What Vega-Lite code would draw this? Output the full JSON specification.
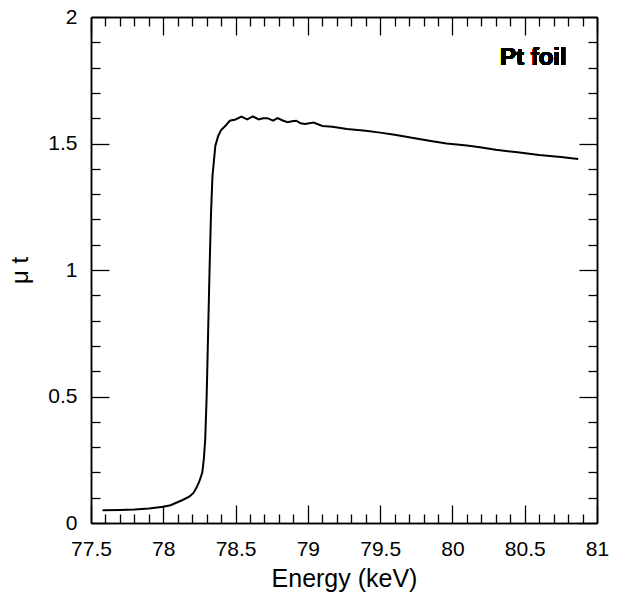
{
  "$schema": "https://vega.github.io/schema/vega-lite/v6.json",
  "width": 506,
  "height": 506,
  "autosize": "none",
  "padding": {"left": 91, "top": 17, "right": 21, "bottom": 72},
  "background": "white",
  "config": {
    "view": {"stroke": null},
    "font": "Liberation Sans",
    "axis": {
      "grid": false,
      "domainColor": "black",
      "domainWidth": 1.5,
      "tickColor": "black",
      "tickWidth": 1.3,
      "labelColor": "black",
      "titleColor": "black",
      "labelFont": "Liberation Sans",
      "titleFont": "Liberation Sans",
      "labelFontSize": 21,
      "titleFontSize": 25,
      "titleFontWeight": "normal",
      "labelFlush": false,
      "labelOverlap": false
    }
  },
  "data": {
    "values": [
      {"E": 77.58, "mu": 0.050}, {"E": 77.7, "mu": 0.051}, {"E": 77.8, "mu": 0.053},
      {"E": 77.9, "mu": 0.057}, {"E": 78.0, "mu": 0.064}, {"E": 78.05, "mu": 0.070},
      {"E": 78.09, "mu": 0.080}, {"E": 78.13, "mu": 0.090}, {"E": 78.18, "mu": 0.104},
      {"E": 78.21, "mu": 0.120}, {"E": 78.23, "mu": 0.140}, {"E": 78.25, "mu": 0.165},
      {"E": 78.27, "mu": 0.200}, {"E": 78.28, "mu": 0.250}, {"E": 78.29, "mu": 0.330},
      {"E": 78.30, "mu": 0.50}, {"E": 78.31, "mu": 0.75}, {"E": 78.32, "mu": 1.00},
      {"E": 78.33, "mu": 1.22}, {"E": 78.34, "mu": 1.37}, {"E": 78.36, "mu": 1.49},
      {"E": 78.38, "mu": 1.53}, {"E": 78.40, "mu": 1.553}, {"E": 78.43, "mu": 1.57},
      {"E": 78.46, "mu": 1.59}, {"E": 78.50, "mu": 1.595}, {"E": 78.54, "mu": 1.606},
      {"E": 78.58, "mu": 1.595}, {"E": 78.62, "mu": 1.607}, {"E": 78.66, "mu": 1.595},
      {"E": 78.69, "mu": 1.600}, {"E": 78.72, "mu": 1.600}, {"E": 78.76, "mu": 1.590},
      {"E": 78.79, "mu": 1.600}, {"E": 78.83, "mu": 1.590}, {"E": 78.86, "mu": 1.584},
      {"E": 78.89, "mu": 1.588}, {"E": 78.92, "mu": 1.590}, {"E": 78.95, "mu": 1.580},
      {"E": 78.98, "mu": 1.577}, {"E": 79.04, "mu": 1.583}, {"E": 79.1, "mu": 1.569},
      {"E": 79.17, "mu": 1.566}, {"E": 79.27, "mu": 1.557}, {"E": 79.4, "mu": 1.550},
      {"E": 79.5, "mu": 1.543}, {"E": 79.6, "mu": 1.535}, {"E": 79.73, "mu": 1.522},
      {"E": 79.85, "mu": 1.510}, {"E": 79.96, "mu": 1.500}, {"E": 80.1, "mu": 1.492},
      {"E": 80.19, "mu": 1.485}, {"E": 80.3, "mu": 1.475}, {"E": 80.45, "mu": 1.465},
      {"E": 80.6, "mu": 1.455}, {"E": 80.75, "mu": 1.447}, {"E": 80.87, "mu": 1.439}
    ]
  },
  "layer": [
    {
      "mark": {"type": "line", "color": "black", "strokeWidth": 2},
      "encoding": {
        "x": {
          "field": "E", "type": "quantitative",
          "scale": {"domain": [77.5, 81], "nice": false, "zero": false},
          "axis": {
            "orient": "bottom",
            "values": [77.5, 78, 78.5, 79, 79.5, 80, 80.5, 81],
            "format": "~g",
            "tickSize": -18,
            "labelPadding": 33,
            "title": "Energy (keV)",
            "titlePadding": 7
          }
        },
        "y": {
          "field": "mu", "type": "quantitative",
          "scale": {"domain": [0, 2], "nice": false, "zero": false},
          "axis": {
            "orient": "left",
            "values": [0, 0.5, 1, 1.5, 2],
            "format": "~g",
            "tickSize": -18,
            "labelPadding": 32,
            "title": "μ t",
            "titleFontSize": 24,
            "titlePadding": 15
          }
        }
      }
    },
    {
      "mark": {"type": "line", "opacity": 0},
      "encoding": {
        "x": {
          "field": "E", "type": "quantitative",
          "scale": {"domain": [77.5, 81], "nice": false, "zero": false},
          "axis": {
            "orient": "bottom",
            "values": [77.6, 77.7, 77.8, 77.9, 78.1, 78.2, 78.3, 78.4, 78.6, 78.7, 78.8, 78.9, 79.1, 79.2, 79.3, 79.4, 79.6, 79.7, 79.8, 79.9, 80.1, 80.2, 80.3, 80.4, 80.6, 80.7, 80.8, 80.9],
            "tickSize": -9,
            "labels": false,
            "title": null
          }
        },
        "y": {
          "field": "mu", "type": "quantitative",
          "scale": {"domain": [0, 2], "nice": false, "zero": false},
          "axis": {
            "orient": "left",
            "values": [0.1, 0.2, 0.3, 0.4, 0.6, 0.7, 0.8, 0.9, 1.1, 1.2, 1.3, 1.4, 1.6, 1.7, 1.8, 1.9],
            "tickSize": -9,
            "labels": false,
            "title": null
          }
        }
      }
    },
    {
      "mark": {"type": "line", "opacity": 0},
      "encoding": {
        "x": {
          "field": "E", "type": "quantitative",
          "scale": {"domain": [77.5, 81], "nice": false, "zero": false},
          "axis": {
            "orient": "top",
            "values": [77.5, 78, 78.5, 79, 79.5, 80, 80.5, 81],
            "tickSize": -18,
            "labels": false,
            "title": null
          }
        },
        "y": {
          "field": "mu", "type": "quantitative",
          "scale": {"domain": [0, 2], "nice": false, "zero": false},
          "axis": {
            "orient": "right",
            "values": [0, 0.5, 1, 1.5, 2],
            "tickSize": -18,
            "labels": false,
            "title": null
          }
        }
      }
    },
    {
      "mark": {"type": "line", "opacity": 0},
      "encoding": {
        "x": {
          "field": "E", "type": "quantitative",
          "scale": {"domain": [77.5, 81], "nice": false, "zero": false},
          "axis": {
            "orient": "top",
            "values": [77.6, 77.7, 77.8, 77.9, 78.1, 78.2, 78.3, 78.4, 78.6, 78.7, 78.8, 78.9, 79.1, 79.2, 79.3, 79.4, 79.6, 79.7, 79.8, 79.9, 80.1, 80.2, 80.3, 80.4, 80.6, 80.7, 80.8, 80.9],
            "tickSize": -9,
            "labels": false,
            "title": null
          }
        },
        "y": {
          "field": "mu", "type": "quantitative",
          "scale": {"domain": [0, 2], "nice": false, "zero": false},
          "axis": {
            "orient": "right",
            "values": [0.1, 0.2, 0.3, 0.4, 0.6, 0.7, 0.8, 0.9, 1.1, 1.2, 1.3, 1.4, 1.6, 1.7, 1.8, 1.9],
            "tickSize": -9,
            "labels": false,
            "title": null
          }
        }
      }
    },
    {
      "mark": {"type": "text", "text": "Pt foil", "align": "right", "baseline": "alphabetic", "fontSize": 24, "fontWeight": "bold", "font": "Liberation Sans", "color": "black"},
      "encoding": {
        "x": {"datum": 80.79, "type": "quantitative", "scale": {"domain": [77.5, 81], "nice": false, "zero": false}, "axis": null},
        "y": {"datum": 1.81, "type": "quantitative", "scale": {"domain": [0, 2], "nice": false, "zero": false}, "axis": null}
      }
    }
  ],
  "resolve": {
    "scale": {"x": "independent", "y": "independent"},
    "axis": {"x": "independent", "y": "independent"}
  }
}
